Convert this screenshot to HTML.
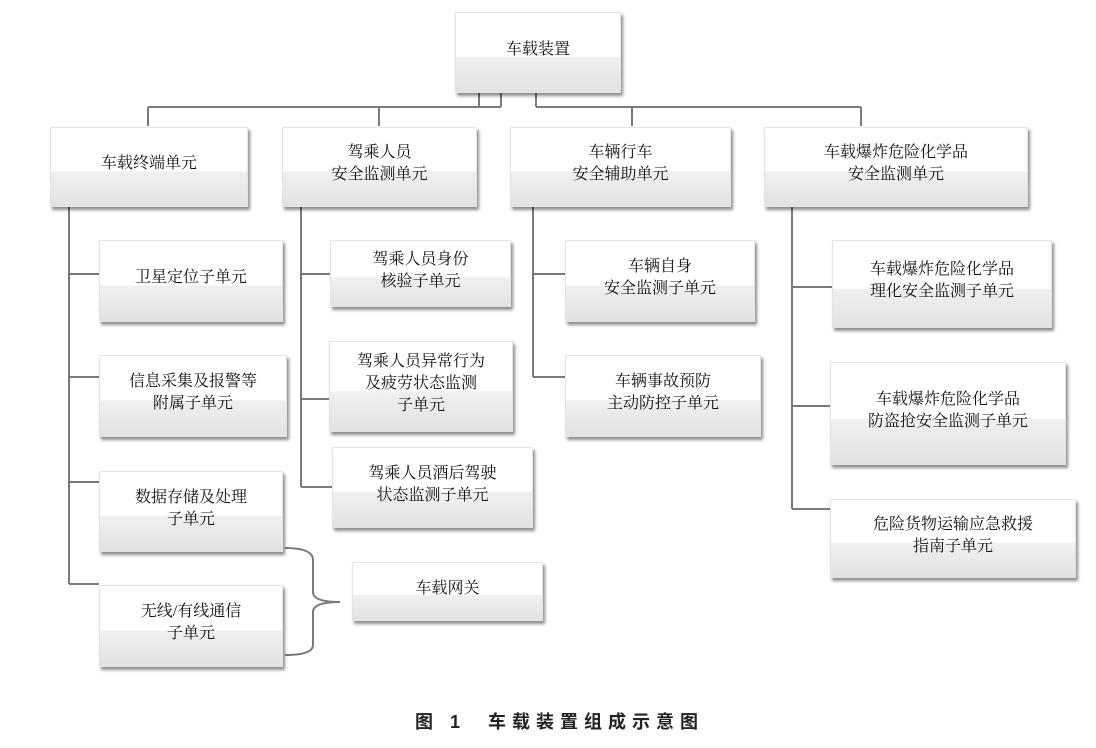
<!DOCTYPE html>
<html><head><meta charset="utf-8"><style>
body{margin:0;width:1096px;height:748px;background:#fff;position:relative;overflow:hidden;font-family:"Liberation Serif","Noto Serif CJK SC",serif;}
.b{position:absolute;box-sizing:border-box;border:1px solid #e4e4e4;background:linear-gradient(to bottom,#fff 0%,#fff 55%,#f0f0f0 56%,#e2e2e2 100%);box-shadow:2px 3px 3px rgba(0,0,0,0.45);display:flex;align-items:center;justify-content:center;text-align:center;font-size:16px;line-height:22px;color:#111;padding-bottom:6px}
svg{position:absolute;left:0;top:0}
.cap{position:absolute;left:415px;top:708px;font-family:"Liberation Sans","Noto Sans CJK SC",sans-serif;font-size:18px;font-weight:bold;letter-spacing:6px;color:#222;white-space:pre}
</style></head><body>
<svg width="1096" height="748"><g stroke="#7a7a7a" stroke-width="2" fill="none">
<path d="M479 93V107M501 93V107M536 93V107M148 107H501M536 107H861M148 107V126M379 107V126M632 107V126M861 107V126"/>
<path d="M69 207V584M69 274H99M69 377H99M69 482H99M69 584H99"/>
<path d="M301 207V487M301 274H330M301 399H329M301 487H332"/>
<path d="M533 207V377M533 274H565M533 377H565"/>
<path d="M792 207V509M792 287H832M792 406H830M792 509H830"/>
<path d="M285 548Q313 548 313 560V592Q313 602 340 602Q313 602 313 612V645Q313 655 285 655"/>
</g></svg>
<div class="b" style="left:455px;top:12px;width:166px;height:81px">车载装置</div>
<div class="b" style="left:50px;top:127px;width:198px;height:80px">车载终端单元</div>
<div class="b" style="left:282px;top:127px;width:195px;height:80px">驾乘人员<br>安全监测单元</div>
<div class="b" style="left:510px;top:127px;width:221px;height:80px">车辆行车<br>安全辅助单元</div>
<div class="b" style="left:764px;top:127px;width:264px;height:80px">车载爆炸危险化学品<br>安全监测单元</div>
<div class="b" style="left:99px;top:240px;width:184px;height:82px">卫星定位子单元</div>
<div class="b" style="left:99px;top:355px;width:188px;height:82px">信息采集及报警等<br>附属子单元</div>
<div class="b" style="left:99px;top:471px;width:184px;height:81px">数据存储及处理<br>子单元</div>
<div class="b" style="left:99px;top:585px;width:184px;height:82px">无线/有线通信<br>子单元</div>
<div class="b" style="left:330px;top:240px;width:181px;height:67px">驾乘人员身份<br>核验子单元</div>
<div class="b" style="left:329px;top:341px;width:184px;height:91px">驾乘人员异常行为<br>及疲劳状态监测<br>子单元</div>
<div class="b" style="left:332px;top:447px;width:201px;height:81px">驾乘人员酒后驾驶<br>状态监测子单元</div>
<div class="b" style="left:352px;top:562px;width:191px;height:59px">车载网关</div>
<div class="b" style="left:565px;top:240px;width:190px;height:82px">车辆自身<br>安全监测子单元</div>
<div class="b" style="left:565px;top:355px;width:196px;height:82px">车辆事故预防<br>主动防控子单元</div>
<div class="b" style="left:832px;top:240px;width:220px;height:88px">车载爆炸危险化学品<br>理化安全监测子单元</div>
<div class="b" style="left:830px;top:362px;width:236px;height:103px">车载爆炸危险化学品<br>防盗抢安全监测子单元</div>
<div class="b" style="left:830px;top:499px;width:246px;height:79px">危险货物运输应急救援<br>指南子单元</div>
<div class="cap">图 1  车载装置组成示意图</div>
</body></html>
